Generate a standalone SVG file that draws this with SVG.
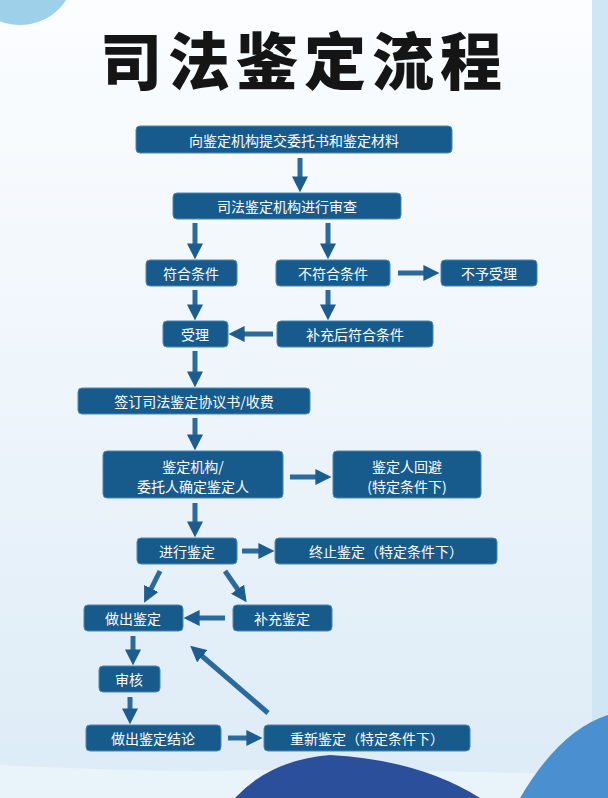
<svg xmlns="http://www.w3.org/2000/svg" width="608" height="798" viewBox="0 0 608 798">
<defs>
<linearGradient id="bg" x1="0" y1="0" x2="0" y2="1"><stop offset="0" stop-color="#fbfdff"/><stop offset="0.5" stop-color="#eef5fb"/><stop offset="1" stop-color="#dcebf6"/></linearGradient>
<marker id="ah" viewBox="0 0 10 10" refX="6" refY="5" markerWidth="3.2" markerHeight="3.2" orient="auto"><path d="M0,0 L10,5 L0,10 z" fill="#1d5c8e"/></marker>
<style>
.b{fill:#175a8c;stroke:#4d86b3;stroke-width:1}
.t{fill:#fff;font-family:"Noto Sans CJK SC",sans-serif;font-size:14px;text-anchor:middle;dominant-baseline:central}
.c line{stroke:#2a6a9c;stroke-width:5;marker-end:url(#ah)}
</style>
</defs>
<rect width="608" height="798" fill="url(#bg)"/>
<circle cx="20" cy="-30" r="55" fill="#9fd0ea"/>
<rect x="592" y="0" width="16" height="798" fill="#cfe6f4"/>
<path d="M0,765 Q200,775 300,768 L608,775 L608,798 L0,798 z" fill="#e9f3fa"/>
<path d="M235,798 Q270,760 330,755 Q420,760 480,798 z" fill="#2c4f9b"/>
<path d="M520,798 Q560,730 608,715 L608,798 z" fill="#4a8fd0"/>
<text x="304" y="58" font-family="Noto Sans CJK SC,sans-serif" font-weight="900" font-size="62" text-anchor="middle" dominant-baseline="central" fill="#151515" letter-spacing="6">司法鉴定流程</text>
<g class="c">
<line x1="300" y1="158" x2="300" y2="186"/>
<line x1="195" y1="223" x2="195" y2="253"/>
<line x1="328" y1="223" x2="328" y2="253"/>
<line x1="398" y1="273" x2="433" y2="273"/>
<line x1="195" y1="290" x2="195" y2="314"/>
<line x1="328" y1="290" x2="328" y2="314"/>
<line x1="273" y1="334" x2="235" y2="334"/>
<line x1="195" y1="351" x2="195" y2="381"/>
<line x1="195" y1="418" x2="195" y2="444"/>
<line x1="290" y1="477" x2="325" y2="477"/>
<line x1="195" y1="503" x2="195" y2="531"/>
<line x1="242" y1="551" x2="268" y2="551"/>
<line x1="160" y1="571" x2="147" y2="597"/>
<line x1="225" y1="571" x2="243" y2="597"/>
<line x1="225" y1="618" x2="190" y2="618"/>
<line x1="133" y1="636" x2="133" y2="659"/>
<line x1="130" y1="697" x2="130" y2="718"/>
<line x1="228" y1="738" x2="256" y2="738"/>
<line x1="268" y1="713" x2="195" y2="650"/>
</g>
<g id="n1"><rect class="b" x="136" y="126" width="316" height="27" rx="4"/><text class="t" x="294" y="140">向鉴定机构提交委托书和鉴定材料</text></g>
<g id="n2"><rect class="b" x="173" y="193" width="228" height="26" rx="4"/><text class="t" x="287" y="206">司法鉴定机构进行审查</text></g>
<g id="n3"><rect class="b" x="146" y="260" width="91" height="26" rx="4"/><text class="t" x="191" y="273">符合条件</text></g>
<g id="n4"><rect class="b" x="276" y="260" width="114" height="26" rx="4"/><text class="t" x="333" y="273">不符合条件</text></g>
<g id="n5"><rect class="b" x="441" y="260" width="96" height="26" rx="4"/><text class="t" x="489" y="273">不予受理</text></g>
<g id="n6"><rect class="b" x="163" y="321" width="65" height="26" rx="4"/><text class="t" x="195" y="334">受理</text></g>
<g id="n7"><rect class="b" x="277" y="321" width="156" height="26" rx="4"/><text class="t" x="355" y="334">补充后符合条件</text></g>
<g id="n8"><rect class="b" x="78" y="388" width="232" height="26" rx="4"/><text class="t" x="194" y="401">签订司法鉴定协议书/收费</text></g>
<g id="n9"><rect class="b" x="103" y="451" width="180" height="47" rx="4"/><text class="t" x="193" y="466">鉴定机构/</text><text class="t" x="193" y="486">委托人确定鉴定人</text></g>
<g id="n10"><rect class="b" x="333" y="451" width="148" height="47" rx="4"/><text class="t" x="407" y="466">鉴定人回避</text><text class="t" x="407" y="486">(特定条件下)</text></g>
<g id="n11"><rect class="b" x="137" y="538" width="100" height="26" rx="4"/><text class="t" x="187" y="551">进行鉴定</text></g>
<g id="n12"><rect class="b" x="275" y="538" width="222" height="26" rx="4"/><text class="t" x="386" y="551">终止鉴定（特定条件下）</text></g>
<g id="n13"><rect class="b" x="84" y="605" width="99" height="26" rx="4"/><text class="t" x="133" y="618">做出鉴定</text></g>
<g id="n14"><rect class="b" x="233" y="605" width="99" height="26" rx="4"/><text class="t" x="282" y="618">补充鉴定</text></g>
<g id="n15"><rect class="b" x="99" y="666" width="61" height="26" rx="4"/><text class="t" x="129" y="679">审核</text></g>
<g id="n16"><rect class="b" x="86" y="725" width="135" height="26" rx="4"/><text class="t" x="153" y="738">做出鉴定结论</text></g>
<g id="n17"><rect class="b" x="264" y="725" width="206" height="26" rx="4"/><text class="t" x="367" y="738">重新鉴定（特定条件下）</text></g>
</svg>
